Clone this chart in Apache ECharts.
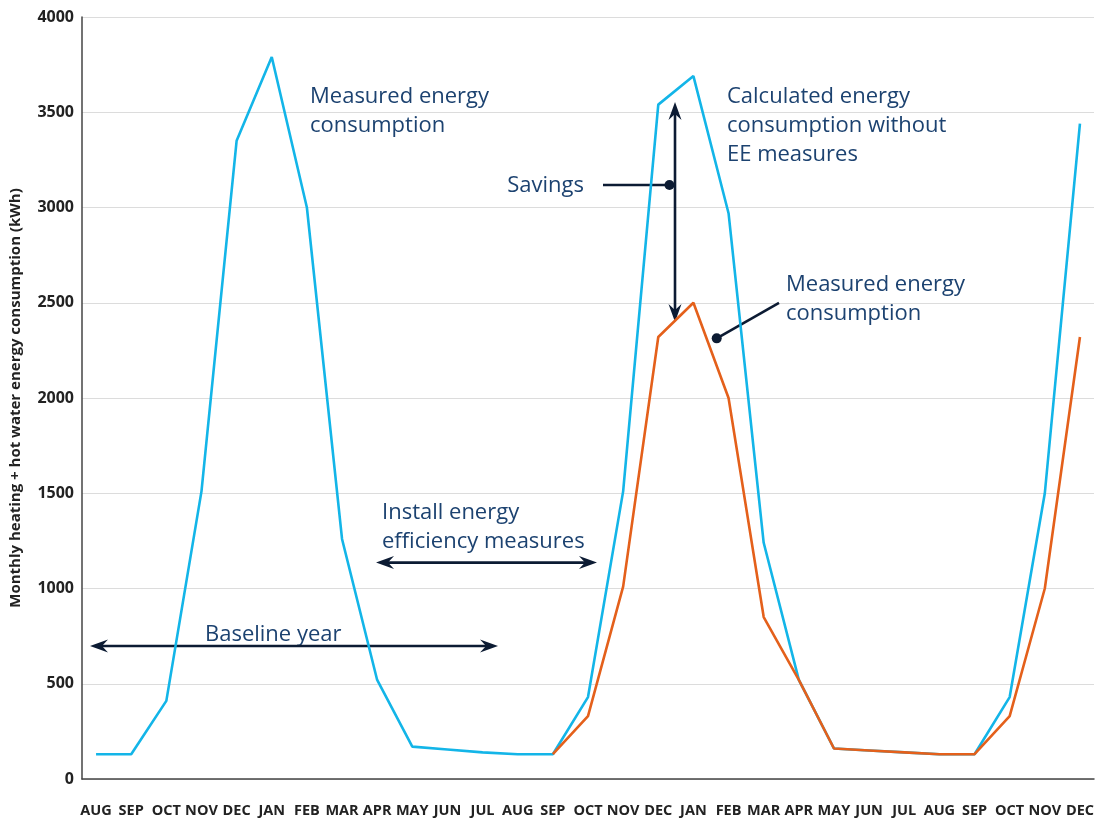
<!DOCTYPE html>
<html><head><meta charset="utf-8">
<script src="https://cdn.jsdelivr.net/npm/echarts@6/dist/echarts.min.js"></script>
<style>html,body{margin:0;padding:0;background:#fff}#c{width:1099px;height:822px}</style>
</head><body><div id="c"></div>
<script>
// ---- data ----
const months = ['AUG','SEP','OCT','NOV','DEC','JAN','FEB','MAR','APR','MAY','JUN','JUL',
                'AUG','SEP','OCT','NOV','DEC','JAN','FEB','MAR','APR','MAY','JUN','JUL',
                'AUG','SEP','OCT','NOV','DEC'];
const calculated = [130,130,410,1510,3350,3790,3000,1260,520,170,155,140,
                    130,130,430,1510,3540,3690,2970,1240,520,160,150,140,
                    130,130,430,1500,3440];
const measured = [null,null,null,null,null,null,null,null,null,null,null,null,
                  null,130,330,1010,2320,2500,2000,850,520,160,150,140,
                  130,130,330,1000,2320];
const yTicks = [0,500,1000,1500,2000,2500,3000,3500,4000];
const yTitle = 'Monthly heating + hot water energy consumption (kWh)';

// ---- annotation placement (data coordinates) ----
const notes = {
  measured1: {x: 6.089, v: 3656, text: 'Measured energy\nconsumption'},
  calculated: {x: 17.955, v: 3656, text: 'Calculated energy\nconsumption without\nEE measures'},
  measured2: {x: 19.635, v: 2669, text: 'Measured energy\nconsumption'},
  install: {x: 8.138, v: 1475, text: 'Install energy\nefficiency measures'},
  baseline: {x: 3.10, v: 831, text: 'Baseline year'},
  savings: {x: 13.886, v: 3113, text: 'Savings'}
};
const arrowsDef = [
  {from: [-0.172, 698], to: [11.439, 698]},
  {from: [7.967, 1136], to: [14.256, 1136]},
  {from: [16.476, 3554], to: [16.476, 2399]}
];
const leaders = [
  {from: [14.427, 3118], dot: [16.319, 3118]},
  {from: [19.436, 2499], dot: [17.663, 2313]}
];

const pts = a => a.map((v, i) => v == null ? [i, null] : [i, v]);

const chart = echarts.init(document.getElementById('c'), null, {renderer: 'canvas'});
const TXT = '#1c4270', ARW = '#0c1b33';

chart.setOption({
  animation: false,
  backgroundColor: '#fff',
  grid: {left: 82, right: 5, top: 17, bottom: 43, containLabel: false},
  xAxis: {
    type: 'value', min: -0.4, max: 28.4,
    axisLine: {show: true, onZero: false, lineStyle: {color: '#444', width: 1.5}},
    axisTick: {show: false},
    splitLine: {show: false},
    axisLabel: {
      customValues: months.map((m, i) => i),
      formatter: v => months[Math.round(v)],
      fontFamily: 'Open Sans', fontWeight: 'bold', fontSize: 14.5, color: '#222', margin: 24
    }
  },
  yAxis: {
    type: 'value', min: 0, max: 4000, interval: 500,
    axisLine: {show: true, onZero: false, lineStyle: {color: '#444', width: 1.5}},
    axisTick: {show: false},
    splitLine: {show: true, lineStyle: {color: '#dcdcdc', width: 1.2}},
    axisLabel: {fontFamily: 'Open Sans', fontWeight: 'bold', fontSize: 16, color: '#222', margin: 8,
      formatter: v => yTicks.includes(v) ? String(v) : ''},
    name: yTitle, nameLocation: 'middle', nameGap: 59, nameRotate: 90,
    nameTextStyle: {fontFamily: 'Open Sans', fontWeight: 'bold', fontSize: 15, color: '#222'}
  },
  series: [
    {type: 'line', name: 'Calculated', data: pts(calculated), showSymbol: false, symbol: 'none',
     lineStyle: {color: '#13b5e8', width: 2.6}, z: 2},
    {type: 'line', name: 'Measured', data: pts(measured), showSymbol: false, symbol: 'none',
     connectNulls: false, lineStyle: {color: '#e4601b', width: 2.6}, z: 3}
  ]
});

function P(x, v) { return chart.convertToPixel({gridIndex: 0}, [x, v]); }
function arrowHead(tip, dx, dy) {
  const L = 18, W = 6.5, N = 12;
  const nx = -dy, ny = dx;
  return [tip,
    [tip[0] - dx * L + nx * W, tip[1] - dy * L + ny * W],
    [tip[0] - dx * N, tip[1] - dy * N],
    [tip[0] - dx * L - nx * W, tip[1] - dy * L - ny * W]];
}
const g = [];
Object.values(notes).forEach(n => {
  const p = P(n.x, n.v);
  const isSav = n.text === 'Savings';
  g.push({type: 'text', x: p[0], y: p[1], silent: true,
    style: {text: n.text, fill: TXT, font: '22px "Open Sans"', lineHeight: 29,
      textAlign: isSav ? 'right' : 'left', textVerticalAlign: isSav ? 'middle' : 'top'}});
});
arrowsDef.forEach(a => {
  const s = P(a.from[0], a.from[1]), e = P(a.to[0], a.to[1]);
  const len = Math.hypot(e[0] - s[0], e[1] - s[1]);
  const dx = (e[0] - s[0]) / len, dy = (e[1] - s[1]) / len;
  g.push({type: 'line', silent: true,
    shape: {x1: s[0] + dx * 10, y1: s[1] + dy * 10, x2: e[0] - dx * 10, y2: e[1] - dy * 10},
    style: {stroke: ARW, lineWidth: 2.6}});
  g.push({type: 'polygon', silent: true, shape: {points: arrowHead(e, dx, dy)}, style: {fill: ARW}});
  g.push({type: 'polygon', silent: true, shape: {points: arrowHead(s, -dx, -dy)}, style: {fill: ARW}});
});
leaders.forEach(l => {
  const s = P(l.from[0], l.from[1]), d = P(l.dot[0], l.dot[1]);
  g.push({type: 'line', silent: true, shape: {x1: s[0], y1: s[1], x2: d[0], y2: d[1]},
    style: {stroke: ARW, lineWidth: 2.6}});
  g.push({type: 'circle', silent: true, shape: {cx: d[0], cy: d[1], r: 5}, style: {fill: ARW}});
});
chart.setOption({graphic: g});
</script>
</body></html>
